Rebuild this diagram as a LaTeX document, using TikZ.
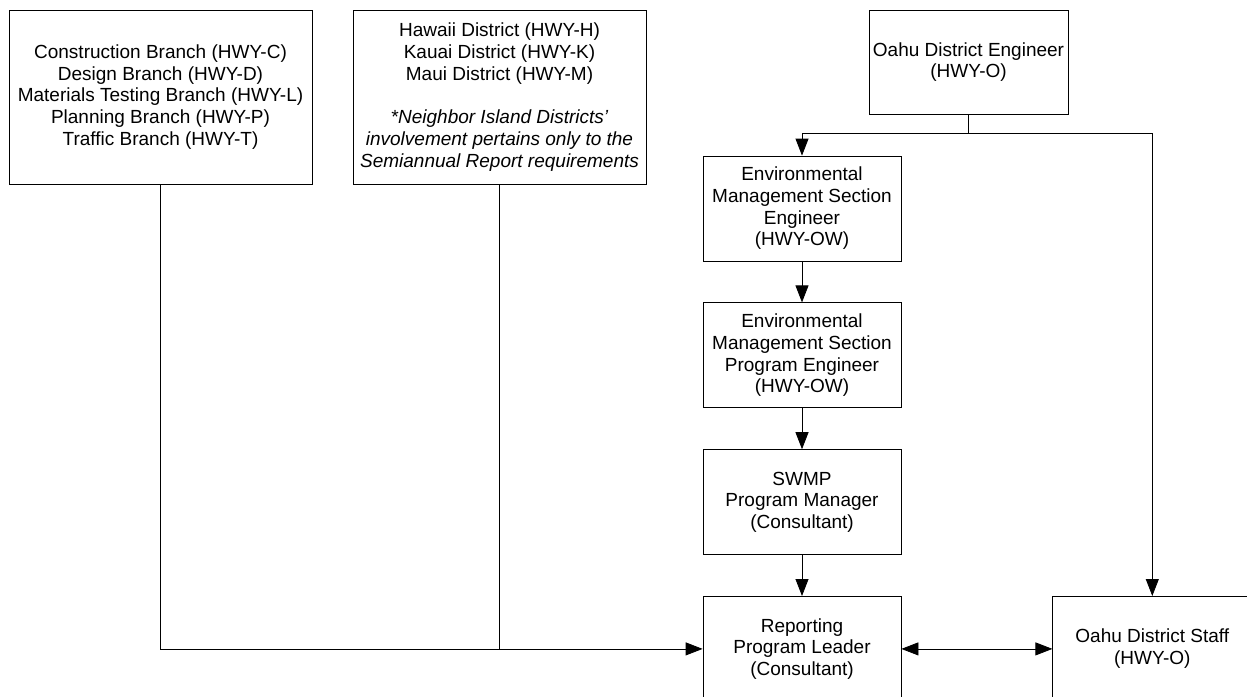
\documentclass[tikz,border=0pt]{standalone}
\usepackage{fontspec}
\setmainfont{Liberation Sans}
\usetikzlibrary{arrows.meta}
\usetikzlibrary{positioning}

\begin{document}
\begin{tikzpicture}[x=1pt,y=-1pt,line width=0.8pt,node distance=41pt,>={Triangle[length=17pt,width=13pt]},
  every node/.style={draw,align=center,inner sep=0pt,minimum width=198pt,minimum height=105pt,font=\fontsize{19pt}{21.7pt}\selectfont}]
  \clip (0,0) rectangle (1247,696);
  \node[minimum width=303pt,minimum height=174pt] (branches) at (160.5,97) {Construction Branch (HWY-C)\\Design Branch (HWY-D)\\Materials Testing Branch (HWY-L)\\Planning Branch (HWY-P)\\Traffic Branch (HWY-T)};
  \node[minimum width=293pt,minimum height=174pt] (districts) at (499.5,97) {Hawaii District (HWY-H)\\Kauai District (HWY-K)\\Maui District (HWY-M)\\[21.7pt]\itshape *Neighbor Island Districts’\\\itshape involvement pertains only to the\\\itshape Semiannual Report requirements};
  \node[minimum width=199pt,minimum height=104pt] (engineer) at (968.5,62) {Oahu District Engineer\\(HWY-O)};
  \node (envsec) at (802,208.5) {Environmental\\Management Section\\Engineer\\(HWY-OW)};
  \node[below=of envsec] (envprog) {Environmental\\Management Section\\Program Engineer\\(HWY-OW)};
  \node[below=of envprog] (swmp) {SWMP\\Program Manager\\(Consultant)};
  \node[below=of swmp] (leader) {Reporting\\Program Leader\\(Consultant)};
  \node[right=151pt of leader,minimum width=199pt] (staff) {Oahu District Staff\\(HWY-O)};
  \draw (engineer.south) -- ++(0,19) coordinate (split);
  \draw[->] (split) -| (envsec.north);
  \draw[->] (split) -| (staff.north);
  \draw[->] (envsec) -- (envprog);
  \draw[->] (envprog) -- (swmp);
  \draw[->] (swmp) -- (leader);
  \draw[->] (branches.south) |- (leader.west);
  \draw (districts.south) -- (districts.south |- leader.west);
  \draw[<->] (leader) -- (staff);
\end{tikzpicture}
\end{document}
